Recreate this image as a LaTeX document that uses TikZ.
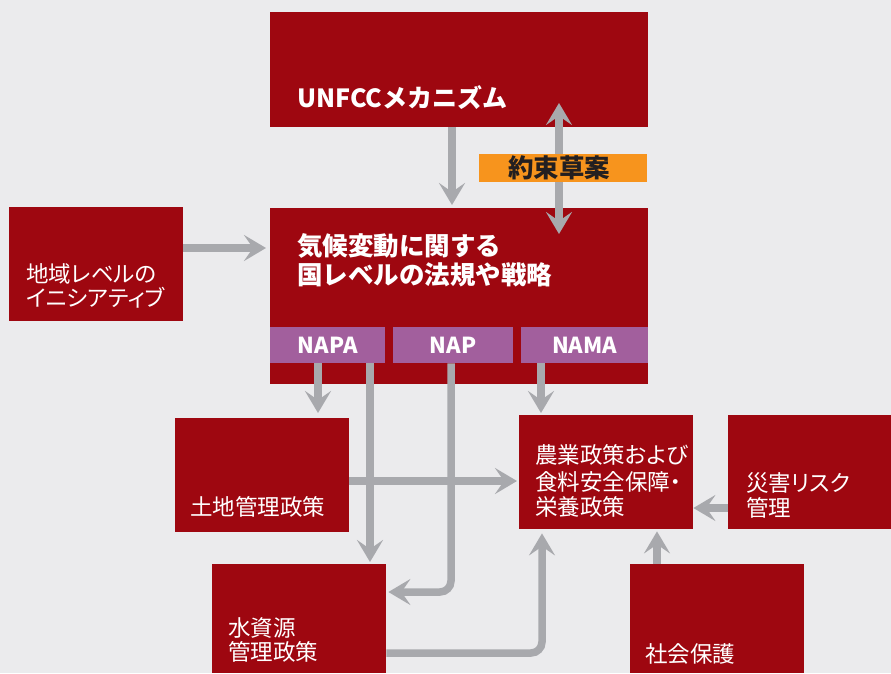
\documentclass[tikz,border=0pt]{standalone}
\usepackage{fontspec}
\setmainfont{Noto Sans CJK JP}
\newfontfamily\jpreg{Noto Sans CJK JP}[RawFeature=+palt]
\usetikzlibrary{arrows.meta}
\definecolor{bgc}{HTML}{EBEBED}
\definecolor{redc}{HTML}{9E0710}
\definecolor{grayc}{HTML}{A8A9AD}
\definecolor{orangec}{HTML}{F7941D}
\definecolor{purplec}{HTML}{A25F9D}
\definecolor{darkc}{HTML}{231F20}
\tikzset{
  redbox/.style={rectangle, fill=redc, draw=none, inner sep=0pt, anchor=north west},
  purplebox/.style={rectangle, fill=purplec, draw=none, inner sep=0pt, anchor=north west, minimum height=36pt},
  wtxt/.style={text=white, inner sep=0pt, anchor=base west, font=\jpreg\fontsize{22.5pt}{26pt}\selectfont},
  btxt/.style={text=white, inner sep=0pt, anchor=base west, font=\fontsize{25.5pt}{28pt}\selectfont\bfseries},
  ltxt/.style={text=white, inner sep=0pt, font=\fontsize{22pt}{26pt}\selectfont\bfseries},
  tipstyle/.tip={Stealth[length=22pt, width=26pt, inset=9pt]},
  arr/.style={draw=grayc, line width=7.5pt, -tipstyle},
  darr/.style={draw=grayc, line width=7.5pt, tipstyle-tipstyle},
}
\begin{document}
\begin{tikzpicture}[x=1pt, y=-1pt]
\fill[bgc] (0,0) rectangle (891,673);
\useasboundingbox (0,0) rectangle (891,673);

% boxes
\node[redbox, minimum width=378pt, minimum height=115pt] (unfccc) at (270,12) {};
\node[redbox, minimum width=378pt, minimum height=176pt] (main) at (270,208) {};
\node[purplebox, minimum width=115pt] (napa) at (270,327) {};
\node[purplebox, minimum width=120pt] (nap) at (393,327) {};
\node[purplebox, minimum width=127pt] (nama) at (521,327) {};
\node[redbox, minimum width=174pt, minimum height=114pt] (region) at (9,207) {};
\node[redbox, minimum width=174pt, minimum height=114pt] (land) at (175,418) {};
\node[redbox, minimum width=174pt, minimum height=114pt] (agri) at (519,415) {};
\node[redbox, minimum width=163pt, minimum height=114pt] (disaster) at (728,415) {};
\node[redbox, minimum width=174pt, minimum height=109pt] (water) at (212,564) {};
\node[redbox, minimum width=174pt, minimum height=109pt] (social) at (630,564) {};

% helper coordinates
\coordinate (xdown) at (452,0);
\coordinate (dtop) at (559,103);
\coordinate (dbot) at (559,234);
\coordinate (yregion) at (0,248);
\coordinate (xnapa) at (318,0);
\coordinate (xnapb) at (370,0);
\coordinate (xnap) at (451,0);
\coordinate (ynap) at (0,592);
\coordinate (xnama) at (541,0);
\coordinate (yland) at (0,481);
\coordinate (ywater) at (0,653);
\coordinate (xwater) at (542,0);
\coordinate (xsocial) at (657,0);
\coordinate (ydis) at (0,508);

% connectors
\draw[arr, shorten >=3pt] (unfccc.south -| xdown) -- (main.north -| xdown);
\draw[darr] (dtop) -- (dbot);
\draw[arr, shorten >=4pt] (region.east |- yregion) -- (main.west |- yregion);
\draw[arr, shorten >=5pt] (napa.south -| xnapa) -- (land.north -| xnapa);
\draw[arr, shorten >=2pt] (napa.south -| xnapb) -- (water.north -| xnapb);
\draw[arr, shorten >=2pt, rounded corners=11pt] (nap.south -| xnap) |- (water.east |- ynap);
\draw[arr, shorten >=2pt] (nama.south -| xnama) -- (agri.north -| xnama);
\draw[arr, shorten >=2pt] (land.east |- yland) -- (agri.west |- yland);
\draw[arr, shorten >=4pt, rounded corners=11pt] (water.east |- ywater) -| (agri.south -| xwater);
\draw[arr, shorten >=2pt] (social.north -| xsocial) -- (agri.south -| xsocial);
\draw[arr] (disaster.west |- ydis) -- (agri.east |- ydis);

% orange label (over the double arrow)
\node[rectangle, fill=orangec, inner sep=0pt, anchor=north west, minimum width=168pt, minimum height=28pt] (draft) at (479,154) {};
\node[text=darkc, inner sep=0pt, font=\fontsize{25.5pt}{28pt}\selectfont\bfseries] (draftt) at (559,168) {約束草案};

% texts
\node[btxt, font=\fontsize{25pt}{28pt}\selectfont\bfseries] (unfccct) at (297,107) {UNFCCメカニズム};
\node[btxt] (maint1) at (297,255) {気候変動に関する};
\node[btxt] (maint2) at (297,284) {国レベルの法規や戦略};
\node[ltxt] (napat) at (napa.center) {NAPA};
\node[ltxt] (napt) at (nap.center) {NAP};
\node[ltxt] (namat) at (nama.center) {NAMA};
\node[wtxt] (regiont1) at (26,282.5) {地域レベルの};
\node[wtxt] (regiont2) at (26,306.5) {イニシアティブ};
\node[wtxt] (landt) at (190,515.5) {土地管理政策};
\node[wtxt] (agrit1) at (535,463.5) {農業政策および};
\node[wtxt] (agrit2) at (535,490.5) {食料安全保障・};
\node[wtxt] (agrit3) at (535,515.5) {栄養政策};
\node[wtxt] (disastert1) at (746,491.5) {災害リスク};
\node[wtxt] (disastert2) at (746,516.5) {管理};
\node[wtxt] (watert1) at (228,636.5) {水資源};
\node[wtxt] (watert2) at (228,660.5) {管理政策};
\node[wtxt] (socialt) at (645,662.5) {社会保護};
\end{tikzpicture}
\end{document}
